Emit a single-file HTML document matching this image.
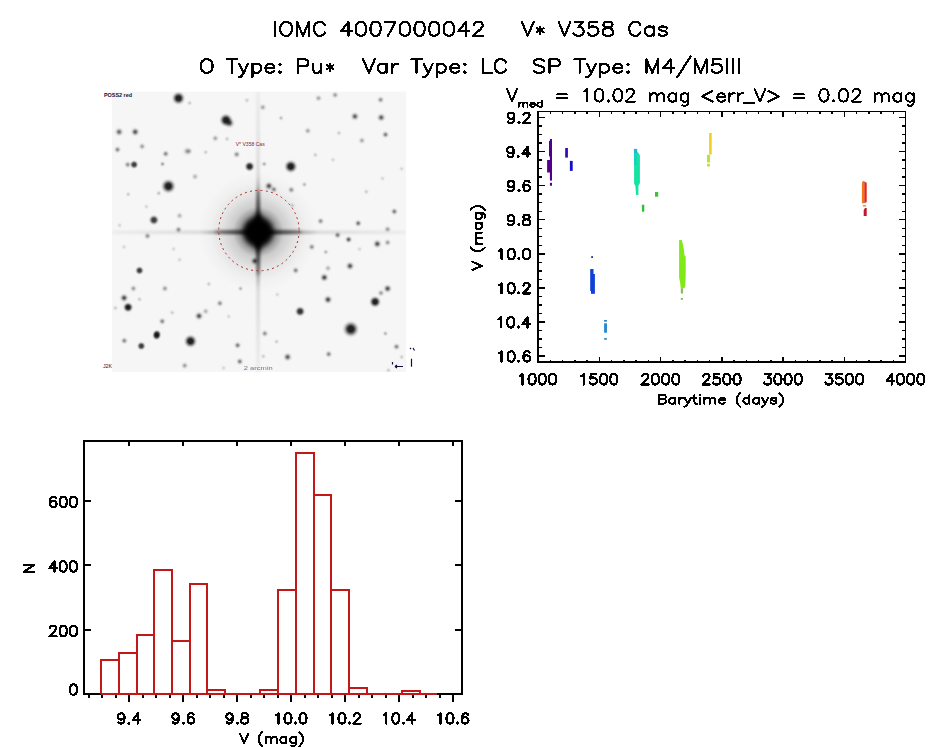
<!DOCTYPE html><html><head><meta charset="utf-8"><style>html,body{margin:0;padding:0;background:#fff;overflow:hidden}svg{display:block}text{font-family:"Liberation Sans",sans-serif}</style></head><body>
<svg width="944" height="747" viewBox="0 0 944 747">
<rect width="944" height="747" fill="#fff"/>
<defs>
<clipPath id="imgclip"><rect x="112" y="91.4" width="294" height="280.6"/></clipPath>
<radialGradient id="halo" cx="0.5" cy="0.5" r="0.5"><stop offset="0.2" stop-color="#000" stop-opacity="0.6"/><stop offset="0.3" stop-color="#000" stop-opacity="0.38"/><stop offset="0.42" stop-color="#000" stop-opacity="0.17"/><stop offset="0.6" stop-color="#000" stop-opacity="0.08"/><stop offset="0.8" stop-color="#000" stop-opacity="0.025"/><stop offset="1" stop-color="#000" stop-opacity="0"/></radialGradient>
<radialGradient id="st" cx="0.5" cy="0.5" r="0.5"><stop offset="0" stop-opacity="1"/><stop offset="0.2" stop-opacity="0.835"/><stop offset="0.4" stop-opacity="0.487"/><stop offset="0.6" stop-opacity="0.198"/><stop offset="0.8" stop-opacity="0.056"/><stop offset="1" stop-opacity="0"/></radialGradient>
<radialGradient id="stb" cx="0.5" cy="0.5" r="0.5"><stop offset="0" stop-opacity="1"/><stop offset="0.3" stop-opacity="0.97"/><stop offset="0.5" stop-opacity="0.6"/><stop offset="0.7" stop-opacity="0.22"/><stop offset="0.85" stop-opacity="0.06"/><stop offset="1" stop-opacity="0"/></radialGradient>
<linearGradient id="spv" x1="0" y1="0" x2="0" y2="1"><stop offset="0" stop-color="#000" stop-opacity="0.035"/><stop offset="0.3" stop-color="#000" stop-opacity="0.11"/><stop offset="0.5" stop-color="#000" stop-opacity="0.7"/><stop offset="0.7" stop-color="#000" stop-opacity="0.11"/><stop offset="1" stop-color="#000" stop-opacity="0.035"/></linearGradient>
<linearGradient id="sph" x1="0" y1="0" x2="1" y2="0"><stop offset="0" stop-color="#000" stop-opacity="0.035"/><stop offset="0.3" stop-color="#000" stop-opacity="0.11"/><stop offset="0.5" stop-color="#000" stop-opacity="0.7"/><stop offset="0.7" stop-color="#000" stop-opacity="0.11"/><stop offset="1" stop-color="#000" stop-opacity="0.035"/></linearGradient>
<filter id="blur3" x="-50%" y="-50%" width="200%" height="200%"><feGaussianBlur stdDeviation="2.5"/></filter>
<filter id="blurSpike" x="-10%" y="-10%" width="120%" height="120%"><feGaussianBlur stdDeviation="0.8"/></filter>
<filter id="blurSpike2" x="-50%" y="-50%" width="200%" height="200%"><feGaussianBlur stdDeviation="1.5"/></filter>
</defs>
<g clip-path="url(#imgclip)">
<rect x="112" y="91.4" width="294" height="280.6" fill="#f6f6f6"/>
<circle cx="258.2" cy="231.8" r="60" fill="url(#halo)"/>
<g filter="url(#blurSpike)">
<rect x="256.3" y="91" width="3.6" height="282" fill="url(#spv)"/>
<rect x="112" y="230.5" width="294" height="3.6" fill="url(#sph)"/>
</g>
<g filter="url(#blur3)"><path d="M258.2,212 L274,231.8 L258.2,251.5 L242.5,231.8Z" fill="#000"/><circle cx="258.2" cy="231.8" r="14.5" fill="#000"/></g>
<g filter="url(#blurSpike2)"><path d="M254.5,231.8 L256.8,190 L259.6,190 L262,231.8 L259.6,275 L256.8,275Z" fill="#000" opacity="0.3"/><path d="M258.2,228.2 L215,230.5 L215,233.3 L258.2,235.5 L301,233.5 L301,230.5Z" fill="#000" opacity="0.3"/></g>
<circle cx="178.5" cy="98.2" r="7.4" fill="url(#stb)" fill-opacity="0.88"/>
<circle cx="119.1" cy="131.9" r="5.2" fill="url(#st)" fill-opacity="0.59"/>
<circle cx="135.2" cy="131.9" r="5.2" fill="url(#st)" fill-opacity="0.68"/>
<circle cx="117.5" cy="149.6" r="4.4" fill="url(#st)" fill-opacity="0.45"/>
<circle cx="142.1" cy="146.4" r="4.4" fill="url(#st)" fill-opacity="0.36"/>
<circle cx="165.7" cy="153.8" r="4.4" fill="url(#st)" fill-opacity="0.45"/>
<circle cx="187.1" cy="151.2" r="5.2" fill="url(#st)" fill-opacity="0.32"/>
<circle cx="134.1" cy="164.6" r="4.9" fill="url(#stb)" fill-opacity="0.75"/>
<circle cx="127.7" cy="164.6" r="4.4" fill="url(#st)" fill-opacity="0.41"/>
<circle cx="162.5" cy="164" r="3.5" fill="url(#st)" fill-opacity="0.36"/>
<circle cx="226" cy="120.1" r="7.4" fill="url(#stb)" fill-opacity="0.88"/>
<circle cx="229.5" cy="123" r="6.1" fill="url(#st)" fill-opacity="0.72"/>
<circle cx="246.9" cy="100.3" r="3.5" fill="url(#st)" fill-opacity="0.18"/>
<circle cx="189.6" cy="103" r="3.5" fill="url(#st)" fill-opacity="0.18"/>
<circle cx="215.3" cy="138.3" r="4.4" fill="url(#st)" fill-opacity="0.32"/>
<circle cx="227.1" cy="138.9" r="3.5" fill="url(#st)" fill-opacity="0.18"/>
<circle cx="189.1" cy="151.2" r="4.4" fill="url(#st)" fill-opacity="0.27"/>
<circle cx="205.7" cy="152.2" r="3.5" fill="url(#st)" fill-opacity="0.18"/>
<circle cx="236.7" cy="154.4" r="4.4" fill="url(#st)" fill-opacity="0.41"/>
<circle cx="249.6" cy="166.5" r="5.8" fill="url(#stb)" fill-opacity="0.84"/>
<circle cx="262.8" cy="107.3" r="4.4" fill="url(#st)" fill-opacity="0.32"/>
<circle cx="318.5" cy="98.2" r="4.4" fill="url(#st)" fill-opacity="0.32"/>
<circle cx="281" cy="118" r="3.5" fill="url(#st)" fill-opacity="0.23"/>
<circle cx="307.8" cy="130.8" r="4.4" fill="url(#st)" fill-opacity="0.32"/>
<circle cx="315.3" cy="154.9" r="3.5" fill="url(#st)" fill-opacity="0.18"/>
<circle cx="290.8" cy="166.5" r="7.4" fill="url(#stb)" fill-opacity="0.88"/>
<circle cx="263.9" cy="164" r="3.5" fill="url(#st)" fill-opacity="0.18"/>
<circle cx="335.1" cy="95" r="4.4" fill="url(#st)" fill-opacity="0.36"/>
<circle cx="380.6" cy="99.8" r="4.4" fill="url(#st)" fill-opacity="0.41"/>
<circle cx="354.9" cy="116.4" r="5.2" fill="url(#st)" fill-opacity="0.63"/>
<circle cx="381.2" cy="117.5" r="5.2" fill="url(#st)" fill-opacity="0.63"/>
<circle cx="385.5" cy="134.6" r="4.4" fill="url(#st)" fill-opacity="0.50"/>
<circle cx="361.9" cy="140.5" r="4.4" fill="url(#st)" fill-opacity="0.32"/>
<circle cx="338.9" cy="133" r="3.5" fill="url(#st)" fill-opacity="0.18"/>
<circle cx="333" cy="159.8" r="3.5" fill="url(#st)" fill-opacity="0.14"/>
<circle cx="168.4" cy="186.2" r="8.2" fill="url(#stb)" fill-opacity="0.88"/>
<circle cx="158.7" cy="193.2" r="3.5" fill="url(#st)" fill-opacity="0.23"/>
<circle cx="128.2" cy="194.3" r="3.5" fill="url(#st)" fill-opacity="0.18"/>
<circle cx="153.9" cy="220" r="5.8" fill="url(#stb)" fill-opacity="0.75"/>
<circle cx="179.6" cy="215.7" r="4.4" fill="url(#st)" fill-opacity="0.27"/>
<circle cx="178.5" cy="229.6" r="4.4" fill="url(#st)" fill-opacity="0.41"/>
<circle cx="147.5" cy="236" r="4.4" fill="url(#st)" fill-opacity="0.41"/>
<circle cx="146.4" cy="206.6" r="3.5" fill="url(#st)" fill-opacity="0.14"/>
<circle cx="119.6" cy="225.3" r="3.5" fill="url(#st)" fill-opacity="0.14"/>
<circle cx="195" cy="176.6" r="4.4" fill="url(#st)" fill-opacity="0.27"/>
<circle cx="268.9" cy="186" r="5.2" fill="url(#st)" fill-opacity="0.68"/>
<circle cx="273.9" cy="189.4" r="4.4" fill="url(#st)" fill-opacity="0.45"/>
<circle cx="291.3" cy="189.8" r="4.4" fill="url(#st)" fill-opacity="0.41"/>
<circle cx="304.4" cy="184.7" r="3.5" fill="url(#st)" fill-opacity="0.14"/>
<circle cx="264.6" cy="164" r="3.5" fill="url(#st)" fill-opacity="0.14"/>
<circle cx="254.8" cy="261" r="5.2" fill="url(#st)" fill-opacity="0.72"/>
<circle cx="295.7" cy="270.4" r="4.4" fill="url(#st)" fill-opacity="0.45"/>
<circle cx="292.3" cy="205.4" r="3.5" fill="url(#st)" fill-opacity="0.18"/>
<circle cx="394.3" cy="211.5" r="4.4" fill="url(#st)" fill-opacity="0.50"/>
<circle cx="320.6" cy="221.1" r="4.4" fill="url(#st)" fill-opacity="0.41"/>
<circle cx="358.2" cy="223.3" r="4.4" fill="url(#st)" fill-opacity="0.54"/>
<circle cx="387.6" cy="229.2" r="4.4" fill="url(#st)" fill-opacity="0.36"/>
<circle cx="337.6" cy="235.1" r="4.4" fill="url(#st)" fill-opacity="0.50"/>
<circle cx="348.6" cy="239.5" r="4.4" fill="url(#st)" fill-opacity="0.63"/>
<circle cx="377.3" cy="243.9" r="5.2" fill="url(#st)" fill-opacity="0.68"/>
<circle cx="387.6" cy="242.5" r="4.4" fill="url(#st)" fill-opacity="0.36"/>
<circle cx="311.8" cy="246.9" r="4.4" fill="url(#st)" fill-opacity="0.41"/>
<circle cx="325.8" cy="252" r="3.5" fill="url(#st)" fill-opacity="0.27"/>
<circle cx="359.6" cy="249.1" r="3.5" fill="url(#st)" fill-opacity="0.14"/>
<circle cx="350" cy="266" r="5.2" fill="url(#st)" fill-opacity="0.68"/>
<circle cx="328" cy="268.2" r="4.4" fill="url(#st)" fill-opacity="0.27"/>
<circle cx="366.3" cy="191.7" r="3.5" fill="url(#st)" fill-opacity="0.18"/>
<circle cx="382.5" cy="178.4" r="3.5" fill="url(#st)" fill-opacity="0.14"/>
<circle cx="401.6" cy="168.8" r="3.5" fill="url(#st)" fill-opacity="0.14"/>
<circle cx="304.4" cy="184.3" r="3.5" fill="url(#st)" fill-opacity="0.14"/>
<circle cx="139.5" cy="270.5" r="4.9" fill="url(#stb)" fill-opacity="0.75"/>
<circle cx="133.4" cy="288.5" r="4.4" fill="url(#st)" fill-opacity="0.36"/>
<circle cx="164.9" cy="288.5" r="4.4" fill="url(#st)" fill-opacity="0.36"/>
<circle cx="124.1" cy="297.9" r="5.2" fill="url(#st)" fill-opacity="0.72"/>
<circle cx="128.1" cy="307.3" r="5.8" fill="url(#stb)" fill-opacity="0.88"/>
<circle cx="115.4" cy="308" r="3.5" fill="url(#st)" fill-opacity="0.18"/>
<circle cx="139.5" cy="299.3" r="3.5" fill="url(#st)" fill-opacity="0.18"/>
<circle cx="199" cy="316" r="5.2" fill="url(#st)" fill-opacity="0.68"/>
<circle cx="205.7" cy="311.3" r="4.4" fill="url(#st)" fill-opacity="0.27"/>
<circle cx="162.2" cy="321.3" r="4.4" fill="url(#st)" fill-opacity="0.45"/>
<circle cx="172.2" cy="312.6" r="3.5" fill="url(#st)" fill-opacity="0.18"/>
<circle cx="156.9" cy="334" r="4.9" fill="url(#stb)" fill-opacity="0.75"/>
<circle cx="173.6" cy="249" r="3.5" fill="url(#st)" fill-opacity="0.14"/>
<circle cx="179.6" cy="259.8" r="3.5" fill="url(#st)" fill-opacity="0.14"/>
<circle cx="124" cy="247" r="3.5" fill="url(#st)" fill-opacity="0.14"/>
<circle cx="300.1" cy="311.4" r="5.8" fill="url(#stb)" fill-opacity="0.79"/>
<circle cx="219.9" cy="303.3" r="4.4" fill="url(#st)" fill-opacity="0.41"/>
<circle cx="240.5" cy="288.6" r="3.5" fill="url(#st)" fill-opacity="0.27"/>
<circle cx="208.8" cy="284" r="3.5" fill="url(#st)" fill-opacity="0.18"/>
<circle cx="277.3" cy="294.5" r="3.5" fill="url(#st)" fill-opacity="0.14"/>
<circle cx="264.8" cy="333.5" r="4.4" fill="url(#st)" fill-opacity="0.41"/>
<circle cx="276.6" cy="341.6" r="3.5" fill="url(#st)" fill-opacity="0.18"/>
<circle cx="237.6" cy="345.3" r="4.4" fill="url(#st)" fill-opacity="0.50"/>
<circle cx="287.6" cy="357" r="5.2" fill="url(#st)" fill-opacity="0.63"/>
<circle cx="239.8" cy="361.5" r="4.4" fill="url(#st)" fill-opacity="0.50"/>
<circle cx="263.3" cy="356.3" r="3.5" fill="url(#st)" fill-opacity="0.18"/>
<circle cx="223.6" cy="368" r="3.5" fill="url(#st)" fill-opacity="0.14"/>
<circle cx="228.7" cy="316.5" r="3.5" fill="url(#st)" fill-opacity="0.14"/>
<circle cx="350.8" cy="329.1" r="9.1" fill="url(#stb)" fill-opacity="0.88"/>
<circle cx="375.1" cy="301.8" r="6.6" fill="url(#stb)" fill-opacity="0.88"/>
<circle cx="387.6" cy="288.6" r="5.2" fill="url(#st)" fill-opacity="0.68"/>
<circle cx="381" cy="293" r="4.4" fill="url(#st)" fill-opacity="0.36"/>
<circle cx="324.3" cy="277.5" r="5.2" fill="url(#st)" fill-opacity="0.72"/>
<circle cx="328" cy="299.6" r="5.2" fill="url(#st)" fill-opacity="0.72"/>
<circle cx="396.5" cy="346.7" r="4.4" fill="url(#st)" fill-opacity="0.45"/>
<circle cx="328.7" cy="354.1" r="4.4" fill="url(#st)" fill-opacity="0.45"/>
<circle cx="385.4" cy="333.5" r="3.5" fill="url(#st)" fill-opacity="0.27"/>
<circle cx="401.6" cy="357" r="3.5" fill="url(#st)" fill-opacity="0.18"/>
<circle cx="388.4" cy="370.3" r="3.5" fill="url(#st)" fill-opacity="0.18"/>
<circle cx="156.6" cy="335.9" r="4.9" fill="url(#stb)" fill-opacity="0.75"/>
<circle cx="190.5" cy="341.2" r="7.4" fill="url(#stb)" fill-opacity="0.88"/>
<circle cx="141.3" cy="346" r="4.9" fill="url(#stb)" fill-opacity="0.75"/>
<circle cx="124.3" cy="340.7" r="4.4" fill="url(#st)" fill-opacity="0.45"/>
<circle cx="184.7" cy="365.6" r="4.4" fill="url(#st)" fill-opacity="0.36"/>
</g>
<circle cx="258.9" cy="230.6" r="40.2" fill="none" stroke="#b82828" stroke-width="1" stroke-dasharray="2 3.3"/>
<g font-size="5" fill="#101040">
<text x="104" y="96.5" textLength="28" lengthAdjust="spacingAndGlyphs" font-weight="bold">POSS2 red</text>
<text x="103" y="368" textLength="9" lengthAdjust="spacingAndGlyphs">J2K</text>
<text x="243.8" y="370" textLength="29" lengthAdjust="spacingAndGlyphs" font-size="4.5" opacity="0.6">2 arcmin</text>
</g>
<text x="235.7" y="146" font-size="5" fill="#902020" textLength="29" lengthAdjust="spacingAndGlyphs">V* V358 Cas</text>
<path d="M395,366.5H403M395,366.5l2,-1.5M395,366.5l2,1.5M392.5,362v2.5M411.5,358.8v8M410,348l1,1M413,348l1.5,2.5" stroke="#101040" stroke-width="1.2" fill="none"/>
<path d="M275.10,21.90L275.10,35.80M284.63,21.90L283.17,22.56L281.70,23.88L280.97,25.21L280.23,27.19L280.23,30.50L280.97,32.49L281.70,33.81L283.17,35.14L284.63,35.80L287.57,35.80L289.04,35.14L290.50,33.81L291.24,32.49L291.97,30.50L291.97,27.19L291.24,25.21L290.50,23.88L289.04,22.56L287.57,21.90L284.63,21.90M297.10,21.90L297.10,35.80M297.10,21.90L302.97,35.80M308.84,21.90L302.97,35.80M308.84,21.90L308.84,35.80M324.97,25.21L324.24,23.88L322.77,22.56L321.31,21.90L318.37,21.90L316.91,22.56L315.44,23.88L314.71,25.21L313.97,27.19L313.97,30.50L314.71,32.49L315.44,33.81L316.91,35.14L318.37,35.80L321.31,35.80L322.77,35.14L324.24,33.81L324.97,32.49M348.45,21.90L341.11,31.17L352.11,31.17M348.45,21.90L348.45,35.80M360.18,21.90L357.98,22.56L356.51,24.55L355.78,27.86L355.78,29.84L356.51,33.15L357.98,35.14L360.18,35.80L361.65,35.80L363.85,35.14L365.31,33.15L366.05,29.84L366.05,27.86L365.31,24.55L363.85,22.56L361.65,21.90L360.18,21.90M374.85,21.90L372.65,22.56L371.18,24.55L370.45,27.86L370.45,29.84L371.18,33.15L372.65,35.14L374.85,35.80L376.32,35.80L378.52,35.14L379.98,33.15L380.72,29.84L380.72,27.86L379.98,24.55L378.52,22.56L376.32,21.90L374.85,21.90M395.39,21.90L388.05,35.80M385.12,21.90L395.39,21.90M404.19,21.90L401.99,22.56L400.52,24.55L399.79,27.86L399.79,29.84L400.52,33.15L401.99,35.14L404.19,35.80L405.65,35.80L407.85,35.14L409.32,33.15L410.05,29.84L410.05,27.86L409.32,24.55L407.85,22.56L405.65,21.90L404.19,21.90M418.86,21.90L416.66,22.56L415.19,24.55L414.46,27.86L414.46,29.84L415.19,33.15L416.66,35.14L418.86,35.80L420.32,35.80L422.52,35.14L423.99,33.15L424.72,29.84L424.72,27.86L423.99,24.55L422.52,22.56L420.32,21.90L418.86,21.90M433.53,21.90L431.33,22.56L429.86,24.55L429.12,27.86L429.12,29.84L429.86,33.15L431.33,35.14L433.53,35.80L434.99,35.80L437.19,35.14L438.66,33.15L439.39,29.84L439.39,27.86L438.66,24.55L437.19,22.56L434.99,21.90L433.53,21.90M448.19,21.90L445.99,22.56L444.53,24.55L443.79,27.86L443.79,29.84L444.53,33.15L445.99,35.14L448.19,35.80L449.66,35.80L451.86,35.14L453.33,33.15L454.06,29.84L454.06,27.86L453.33,24.55L451.86,22.56L449.66,21.90L448.19,21.90M465.80,21.90L458.46,31.17L469.46,31.17M465.80,21.90L465.80,35.80M473.87,25.21L473.87,24.55L474.60,23.22L475.33,22.56L476.80,21.90L479.73,21.90L481.20,22.56L481.93,23.22L482.67,24.55L482.67,25.87L481.93,27.19L480.47,29.18L473.13,35.80L483.40,35.80" fill="none" stroke="#000" stroke-width="2.2" stroke-linecap="round" stroke-linejoin="round" shape-rendering="crispEdges"/>
<path d="M521.80,21.90L527.69,35.80M533.58,21.90L527.69,35.80M540.21,26.53L540.21,33.81M536.90,28.19L543.53,32.16M543.53,28.19L536.90,32.16M558.63,21.90L564.52,35.80M570.41,21.90L564.52,35.80M574.83,21.90L582.93,21.90L578.51,27.19L580.72,27.19L582.20,27.86L582.93,28.52L583.67,30.50L583.67,31.83L582.93,33.81L581.46,35.14L579.25,35.80L577.04,35.80L574.83,35.14L574.09,34.48L573.36,33.15M596.93,21.90L589.56,21.90L588.83,27.86L589.56,27.19L591.77,26.53L593.98,26.53L596.19,27.19L597.66,28.52L598.40,30.50L598.40,31.83L597.66,33.81L596.19,35.14L593.98,35.80L591.77,35.80L589.56,35.14L588.83,34.48L588.09,33.15M606.50,21.90L604.29,22.56L603.56,23.88L603.56,25.21L604.29,26.53L605.77,27.19L608.71,27.86L610.92,28.52L612.40,29.84L613.13,31.17L613.13,33.15L612.40,34.48L611.66,35.14L609.45,35.80L606.50,35.80L604.29,35.14L603.56,34.48L602.82,33.15L602.82,31.17L603.56,29.84L605.03,28.52L607.24,27.86L610.19,27.19L611.66,26.53L612.40,25.21L612.40,23.88L611.66,22.56L609.45,21.90L606.50,21.90M640.38,25.21L639.65,23.88L638.17,22.56L636.70,21.90L633.76,21.90L632.28,22.56L630.81,23.88L630.07,25.21L629.34,27.19L629.34,30.50L630.07,32.49L630.81,33.81L632.28,35.14L633.76,35.80L636.70,35.80L638.17,35.14L639.65,33.81L640.38,32.49M653.64,26.53L653.64,35.80M653.64,28.52L652.17,27.19L650.70,26.53L648.49,26.53L647.01,27.19L645.54,28.52L644.80,30.50L644.80,31.83L645.54,33.81L647.01,35.14L648.49,35.80L650.70,35.80L652.17,35.14L653.64,33.81M666.90,28.52L666.16,27.19L663.95,26.53L661.74,26.53L659.53,27.19L658.80,28.52L659.53,29.84L661.01,30.50L664.69,31.17L666.16,31.83L666.90,33.15L666.90,33.81L666.16,35.14L663.95,35.80L661.74,35.80L659.53,35.14L658.80,33.81" fill="none" stroke="#000" stroke-width="2.2" stroke-linecap="round" stroke-linejoin="round" shape-rendering="crispEdges"/>
<path d="M205.25,59.19L203.80,59.84L202.35,61.14L201.63,62.43L200.90,64.38L200.90,67.62L201.63,69.56L202.35,70.86L203.80,72.15L205.25,72.80L208.15,72.80L209.61,72.15L211.06,70.86L211.78,69.56L212.51,67.62L212.51,64.38L211.78,62.43L211.06,61.14L209.61,59.84L208.15,59.19L205.25,59.19M232.10,59.19L232.10,72.80M227.02,59.19L237.17,59.19M239.35,63.73L243.70,72.80M248.06,63.73L243.70,72.80L242.25,75.39L240.80,76.69L239.35,77.34L238.62,77.34M252.41,63.73L252.41,77.34M252.41,65.67L253.86,64.38L255.31,63.73L257.49,63.73L258.94,64.38L260.39,65.67L261.11,67.62L261.11,68.91L260.39,70.86L258.94,72.15L257.49,72.80L255.31,72.80L253.86,72.15L252.41,70.86M265.47,67.62L274.17,67.62L274.17,66.32L273.45,65.02L272.72,64.38L271.27,63.73L269.10,63.73L267.64,64.38L266.19,65.67L265.47,67.62L265.47,68.91L266.19,70.86L267.64,72.15L269.10,72.80L271.27,72.80L272.72,72.15L274.17,70.86M279.98,63.73L279.25,64.38L279.98,65.02L280.70,64.38L279.98,63.73M279.98,71.50L279.25,72.15L279.98,72.80L280.70,72.15L279.98,71.50M298.11,59.19L298.11,72.80M298.11,59.19L304.64,59.19L306.82,59.84L307.55,60.49L308.27,61.78L308.27,63.73L307.55,65.02L306.82,65.67L304.64,66.32L298.11,66.32M313.35,63.73L313.35,70.21L314.07,72.15L315.53,72.80L317.70,72.80L319.15,72.15L321.33,70.21M321.33,63.73L321.33,72.80M330.04,63.73L330.04,70.86M326.77,65.35L333.30,69.24M333.30,65.35L326.77,69.24" fill="none" stroke="#000" stroke-width="2.2" stroke-linecap="round" stroke-linejoin="round" shape-rendering="crispEdges"/>
<path d="M363.10,59.19L368.95,72.80M374.81,59.19L368.95,72.80M386.52,63.73L386.52,72.80M386.52,65.67L385.05,64.38L383.59,63.73L381.39,63.73L379.93,64.38L378.47,65.67L377.74,67.62L377.74,68.91L378.47,70.86L379.93,72.15L381.39,72.80L383.59,72.80L385.05,72.15L386.52,70.86M392.37,63.73L392.37,72.80M392.37,67.62L393.10,65.67L394.57,64.38L396.03,63.73L398.23,63.73M416.52,59.19L416.52,72.80M411.40,59.19L421.64,59.19M423.84,63.73L428.23,72.80M432.62,63.73L428.23,72.80L426.77,75.39L425.30,76.69L423.84,77.34L423.11,77.34M437.01,63.73L437.01,77.34M437.01,65.67L438.47,64.38L439.94,63.73L442.13,63.73L443.60,64.38L445.06,65.67L445.79,67.62L445.79,68.91L445.06,70.86L443.60,72.15L442.13,72.80L439.94,72.80L438.47,72.15L437.01,70.86M450.18,67.62L458.97,67.62L458.97,66.32L458.23,65.02L457.50,64.38L456.04,63.73L453.84,63.73L452.38,64.38L450.92,65.67L450.18,67.62L450.18,68.91L450.92,70.86L452.38,72.15L453.84,72.80L456.04,72.80L457.50,72.15L458.97,70.86M464.82,63.73L464.09,64.38L464.82,65.02L465.55,64.38L464.82,63.73M464.82,71.50L464.09,72.15L464.82,72.80L465.55,72.15L464.82,71.50M483.11,59.19L483.11,72.80M483.11,72.80L491.90,72.80M505.80,62.43L505.07,61.14L503.60,59.84L502.14,59.19L499.21,59.19L497.75,59.84L496.29,61.14L495.55,62.43L494.82,64.38L494.82,67.62L495.55,69.56L496.29,70.86L497.75,72.15L499.21,72.80L502.14,72.80L503.60,72.15L505.07,70.86L505.80,69.56" fill="none" stroke="#000" stroke-width="2.2" stroke-linecap="round" stroke-linejoin="round" shape-rendering="crispEdges"/>
<path d="M544.38,61.14L542.91,59.84L540.71,59.19L537.77,59.19L535.57,59.84L534.10,61.14L534.10,62.43L534.83,63.73L535.57,64.38L537.04,65.02L541.44,66.32L542.91,66.97L543.64,67.62L544.38,68.91L544.38,70.86L542.91,72.15L540.71,72.80L537.77,72.80L535.57,72.15L534.10,70.86M549.52,59.19L549.52,72.80M549.52,59.19L556.12,59.19L558.32,59.84L559.06,60.49L559.79,61.78L559.79,63.73L559.06,65.02L558.32,65.67L556.12,66.32L549.52,66.32M579.61,59.19L579.61,72.80M574.47,59.19L584.75,59.19M586.95,63.73L591.36,72.80M595.76,63.73L591.36,72.80L589.89,75.39L588.42,76.69L586.95,77.34L586.22,77.34M600.16,63.73L600.16,77.34M600.16,65.67L601.63,64.38L603.10,63.73L605.30,63.73L606.77,64.38L608.24,65.67L608.97,67.62L608.97,68.91L608.24,70.86L606.77,72.15L605.30,72.80L603.10,72.80L601.63,72.15L600.16,70.86M613.38,67.62L622.19,67.62L622.19,66.32L621.45,65.02L620.72,64.38L619.25,63.73L617.05,63.73L615.58,64.38L614.11,65.67L613.38,67.62L613.38,68.91L614.11,70.86L615.58,72.15L617.05,72.80L619.25,72.80L620.72,72.15L622.19,70.86M628.06,63.73L627.32,64.38L628.06,65.02L628.79,64.38L628.06,63.73M628.06,71.50L627.32,72.15L628.06,72.80L628.79,72.15L628.06,71.50M646.41,59.19L646.41,72.80M646.41,59.19L652.28,72.80M658.15,59.19L652.28,72.80M658.15,59.19L658.15,72.80M670.63,59.19L663.29,68.26L674.30,68.26M670.63,59.19L670.63,72.80M690.45,56.60L677.24,77.34M694.86,59.19L694.86,72.80M694.86,59.19L700.73,72.80M706.60,59.19L700.73,72.80M706.60,59.19L706.60,72.80M720.55,59.19L713.21,59.19L712.47,65.02L713.21,64.38L715.41,63.73L717.61,63.73L719.81,64.38L721.28,65.67L722.02,67.62L722.02,68.91L721.28,70.86L719.81,72.15L717.61,72.80L715.41,72.80L713.21,72.15L712.47,71.50L711.74,70.21M727.16,59.19L727.16,72.80M733.03,59.19L733.03,72.80M738.90,59.19L738.90,72.80" fill="none" stroke="#000" stroke-width="2.2" stroke-linecap="round" stroke-linejoin="round" shape-rendering="crispEdges"/>
<g stroke="#000" stroke-width="1.4" fill="none" shape-rendering="crispEdges">
<rect x="538.0" y="111.5" width="367.5" height="250.5"/>
<path d="M538.0,117.4h7M905.5,117.4h-7M538.0,125.9h3.5M905.5,125.9h-3.5M538.0,134.4h3.5M905.5,134.4h-3.5M538.0,143.0h3.5M905.5,143.0h-3.5M538.0,151.5h7M905.5,151.5h-7M538.0,160.0h3.5M905.5,160.0h-3.5M538.0,168.6h3.5M905.5,168.6h-3.5M538.0,177.1h3.5M905.5,177.1h-3.5M538.0,185.6h7M905.5,185.6h-7M538.0,194.1h3.5M905.5,194.1h-3.5M538.0,202.7h3.5M905.5,202.7h-3.5M538.0,211.2h3.5M905.5,211.2h-3.5M538.0,219.7h7M905.5,219.7h-7M538.0,228.2h3.5M905.5,228.2h-3.5M538.0,236.7h3.5M905.5,236.7h-3.5M538.0,245.3h3.5M905.5,245.3h-3.5M538.0,253.8h7M905.5,253.8h-7M538.0,262.3h3.5M905.5,262.3h-3.5M538.0,270.9h3.5M905.5,270.9h-3.5M538.0,279.4h3.5M905.5,279.4h-3.5M538.0,287.9h7M905.5,287.9h-7M538.0,296.4h3.5M905.5,296.4h-3.5M538.0,304.9h3.5M905.5,304.9h-3.5M538.0,313.5h3.5M905.5,313.5h-3.5M538.0,322.0h7M905.5,322.0h-7M538.0,330.5h3.5M905.5,330.5h-3.5M538.0,339.1h3.5M905.5,339.1h-3.5M538.0,347.6h3.5M905.5,347.6h-3.5M538.0,356.1h7M905.5,356.1h-7M538.0,362.0v-5M538.0,111.5v5M550.2,362.0v-2.5M550.2,111.5v2.5M562.5,362.0v-2.5M562.5,111.5v2.5M574.8,362.0v-2.5M574.8,111.5v2.5M587.0,362.0v-2.5M587.0,111.5v2.5M599.2,362.0v-5M599.2,111.5v5M611.5,362.0v-2.5M611.5,111.5v2.5M623.8,362.0v-2.5M623.8,111.5v2.5M636.0,362.0v-2.5M636.0,111.5v2.5M648.2,362.0v-2.5M648.2,111.5v2.5M660.5,362.0v-5M660.5,111.5v5M672.8,362.0v-2.5M672.8,111.5v2.5M685.0,362.0v-2.5M685.0,111.5v2.5M697.2,362.0v-2.5M697.2,111.5v2.5M709.5,362.0v-2.5M709.5,111.5v2.5M721.8,362.0v-5M721.8,111.5v5M734.0,362.0v-2.5M734.0,111.5v2.5M746.2,362.0v-2.5M746.2,111.5v2.5M758.5,362.0v-2.5M758.5,111.5v2.5M770.8,362.0v-2.5M770.8,111.5v2.5M783.0,362.0v-5M783.0,111.5v5M795.2,362.0v-2.5M795.2,111.5v2.5M807.5,362.0v-2.5M807.5,111.5v2.5M819.8,362.0v-2.5M819.8,111.5v2.5M832.0,362.0v-2.5M832.0,111.5v2.5M844.2,362.0v-5M844.2,111.5v5M856.5,362.0v-2.5M856.5,111.5v2.5M868.8,362.0v-2.5M868.8,111.5v2.5M881.0,362.0v-2.5M881.0,111.5v2.5M893.2,362.0v-2.5M893.2,111.5v2.5M905.5,362.0v-5M905.5,111.5v5"/>
</g>
<path d="M514.29,116.04L513.78,117.51L512.76,118.49L511.23,118.98L510.72,118.98L509.19,118.49L508.17,117.51L507.66,116.04L507.66,115.55L508.17,114.08L509.19,113.10L510.72,112.61L511.23,112.61L512.76,113.10L513.78,114.08L514.29,116.04L514.29,118.49L513.78,120.94L512.76,122.41L511.23,122.90L510.21,122.90L508.68,122.41L508.17,121.43M518.88,121.92L518.37,122.41L518.88,122.90L519.39,122.41L518.88,121.92M523.47,115.06L523.47,114.57L523.98,113.59L524.49,113.10L525.51,112.61L527.55,112.61L528.57,113.10L529.08,113.59L529.59,114.57L529.59,115.55L529.08,116.53L528.06,118.00L522.96,122.90L530.10,122.90" fill="none" stroke="#000" stroke-width="2.2" stroke-linecap="round" stroke-linejoin="round" shape-rendering="crispEdges"/>
<path d="M513.78,150.14L513.27,151.61L512.25,152.59L510.72,153.08L510.21,153.08L508.68,152.59L507.66,151.61L507.15,150.14L507.15,149.65L507.66,148.18L508.68,147.20L510.21,146.71L510.72,146.71L512.25,147.20L513.27,148.18L513.78,150.14L513.78,152.59L513.27,155.04L512.25,156.51L510.72,157.00L509.70,157.00L508.17,156.51L507.66,155.53M518.37,156.02L517.86,156.51L518.37,157.00L518.88,156.51L518.37,156.02M527.55,146.71L522.45,153.57L530.10,153.57M527.55,146.71L527.55,157.00" fill="none" stroke="#000" stroke-width="2.2" stroke-linecap="round" stroke-linejoin="round" shape-rendering="crispEdges"/>
<path d="M514.29,184.24L513.78,185.71L512.76,186.69L511.23,187.18L510.72,187.18L509.19,186.69L508.17,185.71L507.66,184.24L507.66,183.75L508.17,182.28L509.19,181.30L510.72,180.81L511.23,180.81L512.76,181.30L513.78,182.28L514.29,184.24L514.29,186.69L513.78,189.14L512.76,190.61L511.23,191.10L510.21,191.10L508.68,190.61L508.17,189.63M518.88,190.12L518.37,190.61L518.88,191.10L519.39,190.61L518.88,190.12M529.59,182.28L529.08,181.30L527.55,180.81L526.53,180.81L525.00,181.30L523.98,182.77L523.47,185.22L523.47,187.67L523.98,189.63L525.00,190.61L526.53,191.10L527.04,191.10L528.57,190.61L529.59,189.63L530.10,188.16L530.10,187.67L529.59,186.20L528.57,185.22L527.04,184.73L526.53,184.73L525.00,185.22L523.98,186.20L523.47,187.67" fill="none" stroke="#000" stroke-width="2.2" stroke-linecap="round" stroke-linejoin="round" shape-rendering="crispEdges"/>
<path d="M514.29,218.34L513.78,219.81L512.76,220.79L511.23,221.28L510.72,221.28L509.19,220.79L508.17,219.81L507.66,218.34L507.66,217.85L508.17,216.38L509.19,215.40L510.72,214.91L511.23,214.91L512.76,215.40L513.78,216.38L514.29,218.34L514.29,220.79L513.78,223.24L512.76,224.71L511.23,225.20L510.21,225.20L508.68,224.71L508.17,223.73M518.88,224.22L518.37,224.71L518.88,225.20L519.39,224.71L518.88,224.22M525.51,214.91L523.98,215.40L523.47,216.38L523.47,217.36L523.98,218.34L525.00,218.83L527.04,219.32L528.57,219.81L529.59,220.79L530.10,221.77L530.10,223.24L529.59,224.22L529.08,224.71L527.55,225.20L525.51,225.20L523.98,224.71L523.47,224.22L522.96,223.24L522.96,221.77L523.47,220.79L524.49,219.81L526.02,219.32L528.06,218.83L529.08,218.34L529.59,217.36L529.59,216.38L529.08,215.40L527.55,214.91L525.51,214.91" fill="none" stroke="#000" stroke-width="2.2" stroke-linecap="round" stroke-linejoin="round" shape-rendering="crispEdges"/>
<path d="M498.99,250.97L500.01,250.48L501.54,249.01L501.54,259.30M510.72,249.01L509.19,249.50L508.17,250.97L507.66,253.42L507.66,254.89L508.17,257.34L509.19,258.81L510.72,259.30L511.74,259.30L513.27,258.81L514.29,257.34L514.80,254.89L514.80,253.42L514.29,250.97L513.27,249.50L511.74,249.01L510.72,249.01M518.88,258.32L518.37,258.81L518.88,259.30L519.39,258.81L518.88,258.32M526.02,249.01L524.49,249.50L523.47,250.97L522.96,253.42L522.96,254.89L523.47,257.34L524.49,258.81L526.02,259.30L527.04,259.30L528.57,258.81L529.59,257.34L530.10,254.89L530.10,253.42L529.59,250.97L528.57,249.50L527.04,249.01L526.02,249.01" fill="none" stroke="#000" stroke-width="2.2" stroke-linecap="round" stroke-linejoin="round" shape-rendering="crispEdges"/>
<path d="M498.99,285.07L500.01,284.58L501.54,283.11L501.54,293.40M510.72,283.11L509.19,283.60L508.17,285.07L507.66,287.52L507.66,288.99L508.17,291.44L509.19,292.91L510.72,293.40L511.74,293.40L513.27,292.91L514.29,291.44L514.80,288.99L514.80,287.52L514.29,285.07L513.27,283.60L511.74,283.11L510.72,283.11M518.88,292.42L518.37,292.91L518.88,293.40L519.39,292.91L518.88,292.42M523.47,285.56L523.47,285.07L523.98,284.09L524.49,283.60L525.51,283.11L527.55,283.11L528.57,283.60L529.08,284.09L529.59,285.07L529.59,286.05L529.08,287.03L528.06,288.50L522.96,293.40L530.10,293.40" fill="none" stroke="#000" stroke-width="2.2" stroke-linecap="round" stroke-linejoin="round" shape-rendering="crispEdges"/>
<path d="M498.48,319.17L499.50,318.68L501.03,317.21L501.03,327.50M510.21,317.21L508.68,317.70L507.66,319.17L507.15,321.62L507.15,323.09L507.66,325.54L508.68,327.01L510.21,327.50L511.23,327.50L512.76,327.01L513.78,325.54L514.29,323.09L514.29,321.62L513.78,319.17L512.76,317.70L511.23,317.21L510.21,317.21M518.37,326.52L517.86,327.01L518.37,327.50L518.88,327.01L518.37,326.52M527.55,317.21L522.45,324.07L530.10,324.07M527.55,317.21L527.55,327.50" fill="none" stroke="#000" stroke-width="2.2" stroke-linecap="round" stroke-linejoin="round" shape-rendering="crispEdges"/>
<path d="M498.99,353.27L500.01,352.78L501.54,351.31L501.54,361.60M510.72,351.31L509.19,351.80L508.17,353.27L507.66,355.72L507.66,357.19L508.17,359.64L509.19,361.11L510.72,361.60L511.74,361.60L513.27,361.11L514.29,359.64L514.80,357.19L514.80,355.72L514.29,353.27L513.27,351.80L511.74,351.31L510.72,351.31M518.88,360.62L518.37,361.11L518.88,361.60L519.39,361.11L518.88,360.62M529.59,352.78L529.08,351.80L527.55,351.31L526.53,351.31L525.00,351.80L523.98,353.27L523.47,355.72L523.47,358.17L523.98,360.13L525.00,361.11L526.53,361.60L527.04,361.60L528.57,361.11L529.59,360.13L530.10,358.66L530.10,358.17L529.59,356.70L528.57,355.72L527.04,355.23L526.53,355.23L525.00,355.72L523.98,356.70L523.47,358.17" fill="none" stroke="#000" stroke-width="2.2" stroke-linecap="round" stroke-linejoin="round" shape-rendering="crispEdges"/>
<path d="M519.89,376.00L520.92,375.50L522.45,374.00L522.45,384.50M531.62,374.00L530.10,374.50L529.08,376.00L528.57,378.50L528.57,380.00L529.08,382.50L530.10,384.00L531.62,384.50L532.64,384.50L534.18,384.00L535.20,382.50L535.71,380.00L535.71,378.50L535.20,376.00L534.18,374.50L532.64,374.00L531.62,374.00M541.83,374.00L540.30,374.50L539.28,376.00L538.76,378.50L538.76,380.00L539.28,382.50L540.30,384.00L541.83,384.50L542.85,384.50L544.38,384.00L545.39,382.50L545.91,380.00L545.91,378.50L545.39,376.00L544.38,374.50L542.85,374.00L541.83,374.00M552.03,374.00L550.50,374.50L549.48,376.00L548.97,378.50L548.97,380.00L549.48,382.50L550.50,384.00L552.03,384.50L553.05,384.50L554.58,384.00L555.60,382.50L556.11,380.00L556.11,378.50L555.60,376.00L554.58,374.50L553.05,374.00L552.03,374.00" fill="none" stroke="#000" stroke-width="2.2" stroke-linecap="round" stroke-linejoin="round" shape-rendering="crispEdges"/>
<path d="M581.14,376.00L582.17,375.50L583.70,374.00L583.70,384.50M595.94,374.00L590.84,374.00L590.33,378.50L590.84,378.00L592.37,377.50L593.89,377.50L595.43,378.00L596.45,379.00L596.96,380.50L596.96,381.50L596.45,383.00L595.43,384.00L593.89,384.50L592.37,384.50L590.84,384.00L590.33,383.50L589.82,382.50M603.08,374.00L601.55,374.50L600.53,376.00L600.01,378.50L600.01,380.00L600.53,382.50L601.55,384.00L603.08,384.50L604.10,384.50L605.62,384.00L606.64,382.50L607.16,380.00L607.16,378.50L606.64,376.00L605.62,374.50L604.10,374.00L603.08,374.00M613.28,374.00L611.75,374.50L610.73,376.00L610.22,378.50L610.22,380.00L610.73,382.50L611.75,384.00L613.28,384.50L614.30,384.50L615.83,384.00L616.85,382.50L617.36,380.00L617.36,378.50L616.85,376.00L615.83,374.50L614.30,374.00L613.28,374.00" fill="none" stroke="#000" stroke-width="2.2" stroke-linecap="round" stroke-linejoin="round" shape-rendering="crispEdges"/>
<path d="M642.14,376.50L642.14,376.00L642.65,375.00L643.16,374.50L644.18,374.00L646.22,374.00L647.24,374.50L647.75,375.00L648.26,376.00L648.26,377.00L647.75,378.00L646.73,379.50L641.63,384.50L648.77,384.50M654.89,374.00L653.36,374.50L652.34,376.00L651.83,378.50L651.83,380.00L652.34,382.50L653.36,384.00L654.89,384.50L655.91,384.50L657.44,384.00L658.46,382.50L658.97,380.00L658.97,378.50L658.46,376.00L657.44,374.50L655.91,374.00L654.89,374.00M665.09,374.00L663.56,374.50L662.54,376.00L662.03,378.50L662.03,380.00L662.54,382.50L663.56,384.00L665.09,384.50L666.11,384.50L667.64,384.00L668.66,382.50L669.17,380.00L669.17,378.50L668.66,376.00L667.64,374.50L666.11,374.00L665.09,374.00M675.29,374.00L673.76,374.50L672.74,376.00L672.23,378.50L672.23,380.00L672.74,382.50L673.76,384.00L675.29,384.50L676.31,384.50L677.84,384.00L678.86,382.50L679.37,380.00L679.37,378.50L678.86,376.00L677.84,374.50L676.31,374.00L675.29,374.00" fill="none" stroke="#000" stroke-width="2.2" stroke-linecap="round" stroke-linejoin="round" shape-rendering="crispEdges"/>
<path d="M703.39,376.50L703.39,376.00L703.90,375.00L704.41,374.50L705.43,374.00L707.47,374.00L708.49,374.50L709.00,375.00L709.51,376.00L709.51,377.00L709.00,378.00L707.98,379.50L702.88,384.50L710.02,384.50M719.20,374.00L714.10,374.00L713.59,378.50L714.10,378.00L715.63,377.50L717.16,377.50L718.69,378.00L719.71,379.00L720.22,380.50L720.22,381.50L719.71,383.00L718.69,384.00L717.16,384.50L715.63,384.50L714.10,384.00L713.59,383.50L713.08,382.50M726.34,374.00L724.81,374.50L723.79,376.00L723.28,378.50L723.28,380.00L723.79,382.50L724.81,384.00L726.34,384.50L727.36,384.50L728.89,384.00L729.91,382.50L730.42,380.00L730.42,378.50L729.91,376.00L728.89,374.50L727.36,374.00L726.34,374.00M736.54,374.00L735.01,374.50L733.99,376.00L733.48,378.50L733.48,380.00L733.99,382.50L735.01,384.00L736.54,384.50L737.56,384.50L739.09,384.00L740.11,382.50L740.62,380.00L740.62,378.50L740.11,376.00L739.09,374.50L737.56,374.00L736.54,374.00" fill="none" stroke="#000" stroke-width="2.2" stroke-linecap="round" stroke-linejoin="round" shape-rendering="crispEdges"/>
<path d="M765.15,374.00L770.76,374.00L767.70,378.00L769.23,378.00L770.25,378.50L770.76,379.00L771.27,380.50L771.27,381.50L770.76,383.00L769.74,384.00L768.21,384.50L766.68,384.50L765.15,384.00L764.64,383.50L764.13,382.50M777.39,374.00L775.86,374.50L774.84,376.00L774.33,378.50L774.33,380.00L774.84,382.50L775.86,384.00L777.39,384.50L778.41,384.50L779.94,384.00L780.96,382.50L781.47,380.00L781.47,378.50L780.96,376.00L779.94,374.50L778.41,374.00L777.39,374.00M787.59,374.00L786.06,374.50L785.04,376.00L784.53,378.50L784.53,380.00L785.04,382.50L786.06,384.00L787.59,384.50L788.61,384.50L790.14,384.00L791.16,382.50L791.67,380.00L791.67,378.50L791.16,376.00L790.14,374.50L788.61,374.00L787.59,374.00M797.79,374.00L796.26,374.50L795.24,376.00L794.73,378.50L794.73,380.00L795.24,382.50L796.26,384.00L797.79,384.50L798.81,384.50L800.34,384.00L801.36,382.50L801.87,380.00L801.87,378.50L801.36,376.00L800.34,374.50L798.81,374.00L797.79,374.00" fill="none" stroke="#000" stroke-width="2.2" stroke-linecap="round" stroke-linejoin="round" shape-rendering="crispEdges"/>
<path d="M826.40,374.00L832.01,374.00L828.95,378.00L830.48,378.00L831.50,378.50L832.01,379.00L832.52,380.50L832.52,381.50L832.01,383.00L830.99,384.00L829.46,384.50L827.93,384.50L826.40,384.00L825.89,383.50L825.38,382.50M841.70,374.00L836.60,374.00L836.09,378.50L836.60,378.00L838.13,377.50L839.66,377.50L841.19,378.00L842.21,379.00L842.72,380.50L842.72,381.50L842.21,383.00L841.19,384.00L839.66,384.50L838.13,384.50L836.60,384.00L836.09,383.50L835.58,382.50M848.84,374.00L847.31,374.50L846.29,376.00L845.78,378.50L845.78,380.00L846.29,382.50L847.31,384.00L848.84,384.50L849.86,384.50L851.39,384.00L852.41,382.50L852.92,380.00L852.92,378.50L852.41,376.00L851.39,374.50L849.86,374.00L848.84,374.00M859.04,374.00L857.51,374.50L856.49,376.00L855.98,378.50L855.98,380.00L856.49,382.50L857.51,384.00L859.04,384.50L860.06,384.50L861.59,384.00L862.61,382.50L863.12,380.00L863.12,378.50L862.61,376.00L861.59,374.50L860.06,374.00L859.04,374.00" fill="none" stroke="#000" stroke-width="2.2" stroke-linecap="round" stroke-linejoin="round" shape-rendering="crispEdges"/>
<path d="M891.73,374.00L886.63,381.00L894.28,381.00M891.73,374.00L891.73,384.50M899.89,374.00L898.36,374.50L897.34,376.00L896.83,378.50L896.83,380.00L897.34,382.50L898.36,384.00L899.89,384.50L900.91,384.50L902.44,384.00L903.46,382.50L903.97,380.00L903.97,378.50L903.46,376.00L902.44,374.50L900.91,374.00L899.89,374.00M910.09,374.00L908.56,374.50L907.54,376.00L907.03,378.50L907.03,380.00L907.54,382.50L908.56,384.00L910.09,384.50L911.11,384.50L912.64,384.00L913.66,382.50L914.17,380.00L914.17,378.50L913.66,376.00L912.64,374.50L911.11,374.00L910.09,374.00M920.29,374.00L918.76,374.50L917.74,376.00L917.23,378.50L917.23,380.00L917.74,382.50L918.76,384.00L920.29,384.50L921.31,384.50L922.84,384.00L923.86,382.50L924.37,380.00L924.37,378.50L923.86,376.00L922.84,374.50L921.31,374.00L920.29,374.00" fill="none" stroke="#000" stroke-width="2.2" stroke-linecap="round" stroke-linejoin="round" shape-rendering="crispEdges"/>
<path d="M658.80,394.88L658.80,403.70M658.80,394.88L663.38,394.88L664.91,395.30L665.42,395.72L665.93,396.56L665.93,397.40L665.42,398.24L664.91,398.66L663.38,399.08M658.80,399.08L663.38,399.08L664.91,399.50L665.42,399.92L665.93,400.76L665.93,402.02L665.42,402.86L664.91,403.28L663.38,403.70L658.80,403.70M675.09,397.82L675.09,403.70M675.09,399.08L674.07,398.24L673.05,397.82L671.53,397.82L670.51,398.24L669.49,399.08L668.98,400.34L668.98,401.18L669.49,402.44L670.51,403.28L671.53,403.70L673.05,403.70L674.07,403.28L675.09,402.44M679.16,397.82L679.16,403.70M679.16,400.34L679.67,399.08L680.69,398.24L681.71,397.82L683.23,397.82M684.76,397.82L687.81,403.70M690.87,397.82L687.81,403.70L686.80,405.38L685.78,406.22L684.76,406.64L684.25,406.64M694.43,394.88L694.43,402.02L694.94,403.28L695.96,403.70L696.98,403.70M692.90,397.82L696.47,397.82M699.52,394.88L700.03,395.30L700.54,394.88L700.03,394.46L699.52,394.88M700.03,397.82L700.03,403.70M704.10,397.82L704.10,403.70M704.10,399.50L705.63,398.24L706.65,397.82L708.17,397.82L709.19,398.24L709.70,399.50L709.70,403.70M709.70,399.50L711.23,398.24L712.25,397.82L713.77,397.82L714.79,398.24L715.30,399.50L715.30,403.70M718.86,400.34L724.97,400.34L724.97,399.50L724.46,398.66L723.95,398.24L722.94,397.82L721.41,397.82L720.39,398.24L719.37,399.08L718.86,400.34L718.86,401.18L719.37,402.44L720.39,403.28L721.41,403.70L722.94,403.70L723.95,403.28L724.97,402.44M740.24,393.20L739.22,394.04L738.21,395.30L737.19,396.98L736.68,399.08L736.68,400.76L737.19,402.86L738.21,404.54L739.22,405.80L740.24,406.64M749.40,394.88L749.40,403.70M749.40,399.08L748.39,398.24L747.37,397.82L745.84,397.82L744.82,398.24L743.81,399.08L743.30,400.34L743.30,401.18L743.81,402.44L744.82,403.28L745.84,403.70L747.37,403.70L748.39,403.28L749.40,402.44M759.08,397.82L759.08,403.70M759.08,399.08L758.06,398.24L757.04,397.82L755.51,397.82L754.50,398.24L753.48,399.08L752.97,400.34L752.97,401.18L753.48,402.44L754.50,403.28L755.51,403.70L757.04,403.70L758.06,403.28L759.08,402.44M762.13,397.82L765.18,403.70M768.24,397.82L765.18,403.70L764.17,405.38L763.15,406.22L762.13,406.64L761.62,406.64M776.38,399.08L775.87,398.24L774.35,397.82L772.82,397.82L771.29,398.24L770.78,399.08L771.29,399.92L772.31,400.34L774.86,400.76L775.87,401.18L776.38,402.02L776.38,402.44L775.87,403.28L774.35,403.70L772.82,403.70L771.29,403.28L770.78,402.44M779.44,393.20L780.45,394.04L781.47,395.30L782.49,396.98L783.00,399.08L783.00,400.76L782.49,402.86L781.47,404.54L780.45,405.80L779.44,406.64" fill="none" stroke="#000" stroke-width="2.0" stroke-linecap="round" stroke-linejoin="round" shape-rendering="crispEdges"/>
<path d="M472.40,269.95L481.85,265.86M472.40,261.77L481.85,265.86M470.60,247.46L471.50,248.48L472.85,249.50L474.65,250.52L476.90,251.04L478.70,251.04L480.95,250.52L482.75,249.50L484.10,248.48L485.00,247.46M475.55,243.88L481.85,243.88M477.35,243.88L476.00,242.35L475.55,241.32L475.55,239.79L476.00,238.77L477.35,238.26L481.85,238.26M477.35,238.26L476.00,236.72L475.55,235.70L475.55,234.17L476.00,233.14L477.35,232.63L481.85,232.63M475.55,222.92L481.85,222.92M476.90,222.92L476.00,223.94L475.55,224.96L475.55,226.50L476.00,227.52L476.90,228.54L478.25,229.05L479.15,229.05L480.50,228.54L481.40,227.52L481.85,226.50L481.85,224.96L481.40,223.94L480.50,222.92M475.55,213.21L482.75,213.21L484.10,213.72L484.55,214.23L485.00,215.25L485.00,216.79L484.55,217.81M476.90,213.21L476.00,214.23L475.55,215.25L475.55,216.79L476.00,217.81L476.90,218.83L478.25,219.34L479.15,219.34L480.50,218.83L481.40,217.81L481.85,216.79L481.85,215.25L481.40,214.23L480.50,213.21M470.60,209.63L471.50,208.61L472.85,207.58L474.65,206.56L476.90,206.05L478.70,206.05L480.95,206.56L482.75,207.58L484.10,208.61L485.00,209.63" fill="none" stroke="#000" stroke-width="2.1" stroke-linecap="round" stroke-linejoin="round" shape-rendering="crispEdges"/>
<path d="M507.10,89.11L512.00,101.50M516.90,89.11L512.00,101.50" fill="none" stroke="#000" stroke-width="2.0" stroke-linecap="round" stroke-linejoin="round" shape-rendering="crispEdges"/>
<path d="M518.80,102.46L518.80,106.80M518.80,103.70L519.97,102.77L520.76,102.46L521.93,102.46L522.72,102.77L523.11,103.70L523.11,106.80M523.11,103.70L524.28,102.77L525.06,102.46L526.24,102.46L527.02,102.77L527.41,103.70L527.41,106.80M530.15,104.32L534.85,104.32L534.85,103.70L534.46,103.08L534.07,102.77L533.29,102.46L532.11,102.46L531.33,102.77L530.55,103.39L530.15,104.32L530.15,104.94L530.55,105.87L531.33,106.49L532.11,106.80L533.29,106.80L534.07,106.49L534.85,105.87M541.90,100.29L541.90,106.80M541.90,103.39L541.12,102.77L540.33,102.46L539.16,102.46L538.38,102.77L537.59,103.39L537.20,104.32L537.20,104.94L537.59,105.87L538.38,106.49L539.16,106.80L540.33,106.80L541.12,106.49L541.90,105.87" fill="none" stroke="#000" stroke-width="1.8" stroke-linecap="round" stroke-linejoin="round" shape-rendering="crispEdges"/>
<path d="M557.10,94.42L567.00,94.42M557.10,97.96L567.00,97.96" fill="none" stroke="#000" stroke-width="2.0" stroke-linecap="round" stroke-linejoin="round" shape-rendering="crispEdges"/>
<path d="M584.20,91.47L585.44,90.88L587.31,89.11L587.31,101.50M598.51,89.11L596.64,89.70L595.40,91.47L594.78,94.42L594.78,96.19L595.40,99.14L596.64,100.91L598.51,101.50L599.76,101.50L601.62,100.91L602.87,99.14L603.49,96.19L603.49,94.42L602.87,91.47L601.62,89.70L599.76,89.11L598.51,89.11M608.47,100.32L607.84,100.91L608.47,101.50L609.09,100.91L608.47,100.32M617.18,89.11L615.31,89.70L614.07,91.47L613.44,94.42L613.44,96.19L614.07,99.14L615.31,100.91L617.18,101.50L618.42,101.50L620.29,100.91L621.53,99.14L622.16,96.19L622.16,94.42L621.53,91.47L620.29,89.70L618.42,89.11L617.18,89.11M626.51,92.06L626.51,91.47L627.13,90.29L627.76,89.70L629.00,89.11L631.49,89.11L632.73,89.70L633.36,90.29L633.98,91.47L633.98,92.65L633.36,93.83L632.11,95.60L625.89,101.50L634.60,101.50" fill="none" stroke="#000" stroke-width="2.0" stroke-linecap="round" stroke-linejoin="round" shape-rendering="crispEdges"/>
<path d="M649.90,93.34L649.90,101.60M649.90,95.70L651.82,93.93L653.09,93.34L655.01,93.34L656.28,93.93L656.92,95.70L656.92,101.60M656.92,95.70L658.84,93.93L660.11,93.34L662.03,93.34L663.31,93.93L663.94,95.70L663.94,101.60M676.07,93.34L676.07,101.60M676.07,95.11L674.80,93.93L673.52,93.34L671.60,93.34L670.33,93.93L669.05,95.11L668.41,96.88L668.41,98.06L669.05,99.83L670.33,101.01L671.60,101.60L673.52,101.60L674.80,101.01L676.07,99.83M688.20,93.34L688.20,102.78L687.56,104.55L686.92,105.14L685.65,105.73L683.73,105.73L682.46,105.14M688.20,95.11L686.92,93.93L685.65,93.34L683.73,93.34L682.46,93.93L681.18,95.11L680.54,96.88L680.54,98.06L681.18,99.83L682.46,101.01L683.73,101.60L685.65,101.60L686.92,101.01L688.20,99.83" fill="none" stroke="#000" stroke-width="2.0" stroke-linecap="round" stroke-linejoin="round" shape-rendering="crispEdges"/>
<path d="M712.59,90.98L702.20,96.29L712.59,101.60M717.13,96.88L724.92,96.88L724.92,95.70L724.27,94.52L723.62,93.93L722.32,93.34L720.38,93.34L719.08,93.93L717.78,95.11L717.13,96.88L717.13,98.06L717.78,99.83L719.08,101.01L720.38,101.60L722.32,101.60L723.62,101.01L724.92,99.83M729.46,93.34L729.46,101.60M729.46,96.88L730.11,95.11L731.41,93.93L732.71,93.34L734.66,93.34M737.90,93.34L737.90,101.60M737.90,96.88L738.55,95.11L739.85,93.93L741.15,93.34L743.10,93.34M743.75,102.78L754.13,102.78M754.78,89.21L759.97,101.60M765.17,89.21L759.97,101.60M768.41,90.98L778.80,96.29L768.41,101.60" fill="none" stroke="#000" stroke-width="2.0" stroke-linecap="round" stroke-linejoin="round" shape-rendering="crispEdges"/>
<path d="M794.00,94.42L804.00,94.42M794.00,97.96L804.00,97.96" fill="none" stroke="#000" stroke-width="2.0" stroke-linecap="round" stroke-linejoin="round" shape-rendering="crispEdges"/>
<path d="M823.30,89.11L821.35,89.70L820.05,91.47L819.40,94.42L819.40,96.19L820.05,99.14L821.35,100.91L823.30,101.50L824.60,101.50L826.55,100.91L827.85,99.14L828.50,96.19L828.50,94.42L827.85,91.47L826.55,89.70L824.60,89.11L823.30,89.11M833.70,100.32L833.05,100.91L833.70,101.50L834.35,100.91L833.70,100.32M842.80,89.11L840.85,89.70L839.55,91.47L838.90,94.42L838.90,96.19L839.55,99.14L840.85,100.91L842.80,101.50L844.10,101.50L846.05,100.91L847.35,99.14L848.00,96.19L848.00,94.42L847.35,91.47L846.05,89.70L844.10,89.11L842.80,89.11M852.55,92.06L852.55,91.47L853.20,90.29L853.85,89.70L855.15,89.11L857.75,89.11L859.05,89.70L859.70,90.29L860.35,91.47L860.35,92.65L859.70,93.83L858.40,95.60L851.90,101.50L861.00,101.50" fill="none" stroke="#000" stroke-width="2.0" stroke-linecap="round" stroke-linejoin="round" shape-rendering="crispEdges"/>
<path d="M874.50,93.34L874.50,101.60M874.50,95.70L876.45,93.93L877.75,93.34L879.70,93.34L881.00,93.93L881.65,95.70L881.65,101.60M881.65,95.70L883.60,93.93L884.90,93.34L886.85,93.34L888.15,93.93L888.80,95.70L888.80,101.60M901.15,93.34L901.15,101.60M901.15,95.11L899.85,93.93L898.55,93.34L896.60,93.34L895.30,93.93L894.00,95.11L893.35,96.88L893.35,98.06L894.00,99.83L895.30,101.01L896.60,101.60L898.55,101.60L899.85,101.01L901.15,99.83M913.50,93.34L913.50,102.78L912.85,104.55L912.20,105.14L910.90,105.73L908.95,105.73L907.65,105.14M913.50,95.11L912.20,93.93L910.90,93.34L908.95,93.34L907.65,93.93L906.35,95.11L905.70,96.88L905.70,98.06L906.35,99.83L907.65,101.01L908.95,101.60L910.90,101.60L912.20,101.01L913.50,99.83" fill="none" stroke="#000" stroke-width="2.0" stroke-linecap="round" stroke-linejoin="round" shape-rendering="crispEdges"/>
<rect x="549.9" y="139.0" width="2.1" height="41.6" fill="#52008a"/><rect x="549.0" y="141.0" width="3.0" height="15.3" fill="#52008a"/><rect x="547.1" y="160.0" width="4.9" height="12.5" fill="#52008a"/><rect x="549.9" y="182.8" width="2.1" height="2.9" fill="#52008a"/><rect x="565.2" y="148.0" width="2.7" height="9.6" fill="#3a08b0"/><rect x="569.9" y="160.9" width="2.8" height="10.0" fill="#1010c8"/><rect x="591.2" y="256.2" width="1.8" height="1.7" fill="#102a70"/><rect x="590.2" y="269.0" width="3.3" height="22.0" fill="#1040d8"/><rect x="591.0" y="274.0" width="3.9" height="19.8" fill="#1040d8"/><rect x="604.1" y="320.0" width="2.8" height="1.7" fill="#2a80c0"/><rect x="604.1" y="323.3" width="2.9" height="9.4" fill="#2888d0"/><rect x="604.1" y="338.1" width="2.8" height="1.6" fill="#2a80c0"/><polygon points="634.1,152 634.1,183.7 635.4,186 636.1,195 638.4,195 638.4,186 639.9,183 639.9,155.2 638,152.2" fill="#12e4a4"/><rect x="633.9" y="148.9" width="3.3" height="4.1" fill="#20b8d0"/><rect x="634.1" y="153.0" width="2.4" height="12.0" fill="#18cfc0"/><rect x="655.0" y="192.0" width="3.2" height="4.7" fill="#40c040"/><rect x="641.9" y="204.7" width="2.4" height="7.0" fill="#30c030"/><polygon points="679.1,240 681.7,240 683.1,244.8 684,250.2 684.4,255 685.7,256.8 685.7,275.8 685.3,285.6 684.4,288.2 680.8,288.2 680,282 679.1,277.6" fill="#80ea18"/><rect x="680.8" y="288.2" width="2.3" height="5.3" fill="#90b868"/><rect x="680.8" y="298.0" width="2.2" height="1.7" fill="#90b060"/><rect x="709.1" y="133.0" width="2.6" height="21.5" fill="#f0d020"/><rect x="707.0" y="154.8" width="3.1" height="7.7" fill="#c0e040"/><rect x="707.0" y="163.8" width="3.0" height="2.7" fill="#c0e040"/><polygon points="861.9,183 862.8,181 864.3,181 864.3,203.3 861.9,203.3" fill="#f07818"/><polygon points="864.3,181.5 866.7,182.8 866.7,202.1 864.3,203.3" fill="#e02818"/><rect x="862.8" y="205.1" width="3.3" height="1.5" fill="#c0a070"/><polygon points="863.7,210 865,208.1 866.7,208.1 866.7,216 863.7,216" fill="#c01828"/>
<g stroke="#000" stroke-width="2" fill="none" shape-rendering="crispEdges">
<rect x="84.1" y="441.0" width="377.9" height="253.39999999999998"/>
<path d="M88.7,694.4v3.2M102.2,694.4v3.2M115.7,694.4v3.2M129.2,694.4v7.4M129.2,441.0v4.5M142.7,694.4v3.2M156.2,694.4v3.2M169.7,694.4v3.2M183.2,694.4v7.4M183.2,441.0v4.5M196.7,694.4v3.2M210.2,694.4v3.2M223.7,694.4v3.2M237.2,694.4v7.4M237.2,441.0v4.5M250.7,694.4v3.2M264.2,694.4v3.2M277.7,694.4v3.2M291.2,694.4v7.4M291.2,441.0v4.5M304.7,694.4v3.2M318.2,694.4v3.2M331.7,694.4v3.2M345.2,694.4v7.4M345.2,441.0v4.5M358.7,694.4v3.2M372.2,694.4v3.2M385.7,694.4v3.2M399.2,694.4v7.4M399.2,441.0v4.5M412.7,694.4v3.2M426.2,694.4v3.2M439.7,694.4v3.2M453.2,694.4v7.4M453.2,441.0v4.5M84.1,629.9h7M462.0,629.9h-7M84.1,565.4h7M462.0,565.4h-7M84.1,500.9h7M462.0,500.9h-7"/>
</g>
<path d="M101.2,694.4V659.9H118.9V694.4M118.9,694.4V653.1H136.6V694.4M136.6,694.4V634.7H154.3V694.4M154.3,694.4V569.9H172.0V694.4M172.0,694.4V640.9H189.7V694.4M189.7,694.4V583.8H207.3V694.4M207.3,694.4V689.6H225.0V694.4M225.0,694.4V694.4H242.7V694.4M242.7,694.4V694.4H260.4V694.4M260.4,694.4V689.6H278.1V694.4M278.1,694.4V589.6H295.8V694.4M295.8,694.4V453.2H313.5V694.4M313.5,694.4V495.1H331.2V694.4M331.2,694.4V590.2H348.9V694.4M348.9,694.4V687.9H366.6V694.4M366.6,694.4V694.4H384.2V694.4M384.2,694.4V694.4H401.9V694.4M401.9,694.4V691.2H419.6V694.4M419.6,694.4V694.4H437.3V694.4M101.2,694.4H437.3" stroke="#c41818" stroke-width="2" fill="none" shape-rendering="crispEdges"/>
<path d="M124.45,716.67L123.95,718.15L122.95,719.14L121.45,719.64L120.95,719.64L119.45,719.14L118.45,718.15L117.95,716.67L117.95,716.18L118.45,714.69L119.45,713.70L120.95,713.21L121.45,713.21L122.95,713.70L123.95,714.69L124.45,716.67L124.45,719.14L123.95,721.62L122.95,723.11L121.45,723.60L120.45,723.60L118.95,723.11L118.45,722.12M128.95,722.61L128.45,723.11L128.95,723.60L129.45,723.11L128.95,722.61M137.95,713.21L132.95,720.13L140.45,720.13M137.95,713.21L137.95,723.60" fill="none" stroke="#000" stroke-width="2.2" stroke-linecap="round" stroke-linejoin="round" shape-rendering="crispEdges"/>
<path d="M178.70,716.67L178.20,718.15L177.20,719.14L175.70,719.64L175.20,719.64L173.70,719.14L172.70,718.15L172.20,716.67L172.20,716.18L172.70,714.69L173.70,713.70L175.20,713.21L175.70,713.21L177.20,713.70L178.20,714.69L178.70,716.67L178.70,719.14L178.20,721.62L177.20,723.11L175.70,723.60L174.70,723.60L173.20,723.11L172.70,722.12M183.20,722.61L182.70,723.11L183.20,723.60L183.70,723.11L183.20,722.61M193.70,714.69L193.20,713.70L191.70,713.21L190.70,713.21L189.20,713.70L188.20,715.19L187.70,717.66L187.70,720.13L188.20,722.12L189.20,723.11L190.70,723.60L191.20,723.60L192.70,723.11L193.70,722.12L194.20,720.63L194.20,720.13L193.70,718.65L192.70,717.66L191.20,717.17L190.70,717.17L189.20,717.66L188.20,718.65L187.70,720.13" fill="none" stroke="#000" stroke-width="2.2" stroke-linecap="round" stroke-linejoin="round" shape-rendering="crispEdges"/>
<path d="M232.70,716.67L232.20,718.15L231.20,719.14L229.70,719.64L229.20,719.64L227.70,719.14L226.70,718.15L226.20,716.67L226.20,716.18L226.70,714.69L227.70,713.70L229.20,713.21L229.70,713.21L231.20,713.70L232.20,714.69L232.70,716.67L232.70,719.14L232.20,721.62L231.20,723.11L229.70,723.60L228.70,723.60L227.20,723.11L226.70,722.12M237.20,722.61L236.70,723.11L237.20,723.60L237.70,723.11L237.20,722.61M243.70,713.21L242.20,713.70L241.70,714.69L241.70,715.68L242.20,716.67L243.20,717.17L245.20,717.66L246.70,718.15L247.70,719.14L248.20,720.13L248.20,721.62L247.70,722.61L247.20,723.11L245.70,723.60L243.70,723.60L242.20,723.11L241.70,722.61L241.20,721.62L241.20,720.13L241.70,719.14L242.70,718.15L244.20,717.66L246.20,717.17L247.20,716.67L247.70,715.68L247.70,714.69L247.20,713.70L245.70,713.21L243.70,713.21" fill="none" stroke="#000" stroke-width="2.2" stroke-linecap="round" stroke-linejoin="round" shape-rendering="crispEdges"/>
<path d="M275.95,715.19L276.95,714.69L278.45,713.21L278.45,723.60M287.45,713.21L285.95,713.70L284.95,715.19L284.45,717.66L284.45,719.14L284.95,721.62L285.95,723.11L287.45,723.60L288.45,723.60L289.95,723.11L290.95,721.62L291.45,719.14L291.45,717.66L290.95,715.19L289.95,713.70L288.45,713.21L287.45,713.21M295.45,722.61L294.95,723.11L295.45,723.60L295.95,723.11L295.45,722.61M302.45,713.21L300.95,713.70L299.95,715.19L299.45,717.66L299.45,719.14L299.95,721.62L300.95,723.11L302.45,723.60L303.45,723.60L304.95,723.11L305.95,721.62L306.45,719.14L306.45,717.66L305.95,715.19L304.95,713.70L303.45,713.21L302.45,713.21" fill="none" stroke="#000" stroke-width="2.2" stroke-linecap="round" stroke-linejoin="round" shape-rendering="crispEdges"/>
<path d="M329.95,715.19L330.95,714.69L332.45,713.21L332.45,723.60M341.45,713.21L339.95,713.70L338.95,715.19L338.45,717.66L338.45,719.14L338.95,721.62L339.95,723.11L341.45,723.60L342.45,723.60L343.95,723.11L344.95,721.62L345.45,719.14L345.45,717.66L344.95,715.19L343.95,713.70L342.45,713.21L341.45,713.21M349.45,722.61L348.95,723.11L349.45,723.60L349.95,723.11L349.45,722.61M353.95,715.68L353.95,715.19L354.45,714.20L354.95,713.70L355.95,713.21L357.95,713.21L358.95,713.70L359.45,714.20L359.95,715.19L359.95,716.18L359.45,717.17L358.45,718.65L353.45,723.60L360.45,723.60" fill="none" stroke="#000" stroke-width="2.2" stroke-linecap="round" stroke-linejoin="round" shape-rendering="crispEdges"/>
<path d="M383.70,715.19L384.70,714.69L386.20,713.21L386.20,723.60M395.20,713.21L393.70,713.70L392.70,715.19L392.20,717.66L392.20,719.14L392.70,721.62L393.70,723.11L395.20,723.60L396.20,723.60L397.70,723.11L398.70,721.62L399.20,719.14L399.20,717.66L398.70,715.19L397.70,713.70L396.20,713.21L395.20,713.21M403.20,722.61L402.70,723.11L403.20,723.60L403.70,723.11L403.20,722.61M412.20,713.21L407.20,720.13L414.70,720.13M412.20,713.21L412.20,723.60" fill="none" stroke="#000" stroke-width="2.2" stroke-linecap="round" stroke-linejoin="round" shape-rendering="crispEdges"/>
<path d="M437.95,715.19L438.95,714.69L440.45,713.21L440.45,723.60M449.45,713.21L447.95,713.70L446.95,715.19L446.45,717.66L446.45,719.14L446.95,721.62L447.95,723.11L449.45,723.60L450.45,723.60L451.95,723.11L452.95,721.62L453.45,719.14L453.45,717.66L452.95,715.19L451.95,713.70L450.45,713.21L449.45,713.21M457.45,722.61L456.95,723.11L457.45,723.60L457.95,723.11L457.45,722.61M467.95,714.69L467.45,713.70L465.95,713.21L464.95,713.21L463.45,713.70L462.45,715.19L461.95,717.66L461.95,720.13L462.45,722.12L463.45,723.11L464.95,723.60L465.45,723.60L466.95,723.11L467.95,722.12L468.45,720.63L468.45,720.13L467.95,718.65L466.95,717.66L465.45,717.17L464.95,717.17L463.45,717.66L462.45,718.65L461.95,720.13" fill="none" stroke="#000" stroke-width="2.2" stroke-linecap="round" stroke-linejoin="round" shape-rendering="crispEdges"/>
<path d="M240.10,733.86L244.12,743.10M248.14,733.86L244.12,743.10M262.21,732.10L261.20,732.98L260.20,734.30L259.19,736.06L258.69,738.26L258.69,740.02L259.19,742.22L260.20,743.98L261.20,745.30L262.21,746.18M265.72,736.94L265.72,743.10M265.72,738.70L267.23,737.38L268.23,736.94L269.74,736.94L270.75,737.38L271.25,738.70L271.25,743.10M271.25,738.70L272.76,737.38L273.76,736.94L275.27,736.94L276.27,737.38L276.78,738.70L276.78,743.10M286.32,736.94L286.32,743.10M286.32,738.26L285.32,737.38L284.31,736.94L282.80,736.94L281.80,737.38L280.79,738.26L280.29,739.58L280.29,740.46L280.79,741.78L281.80,742.66L282.80,743.10L284.31,743.10L285.32,742.66L286.32,741.78M295.87,736.94L295.87,743.98L295.36,745.30L294.86,745.74L293.86,746.18L292.35,746.18L291.34,745.74M295.87,738.26L294.86,737.38L293.86,736.94L292.35,736.94L291.34,737.38L290.34,738.26L289.84,739.58L289.84,740.46L290.34,741.78L291.34,742.66L292.35,743.10L293.86,743.10L294.86,742.66L295.87,741.78M299.38,732.10L300.39,732.98L301.39,734.30L302.40,736.06L302.90,738.26L302.90,740.02L302.40,742.22L301.39,743.98L300.39,745.30L299.38,746.18" fill="none" stroke="#000" stroke-width="2.0" stroke-linecap="round" stroke-linejoin="round" shape-rendering="crispEdges"/>
<path d="M56.09,498.10L55.58,497.10L54.05,496.60L53.03,496.60L51.50,497.10L50.48,498.60L49.97,501.10L49.97,503.60L50.48,505.60L51.50,506.60L53.03,507.10L53.54,507.10L55.07,506.60L56.09,505.60L56.60,504.10L56.60,503.60L56.09,502.10L55.07,501.10L53.54,500.60L53.03,500.60L51.50,501.10L50.48,502.10L49.97,503.60M62.72,496.60L61.19,497.10L60.17,498.60L59.66,501.10L59.66,502.60L60.17,505.10L61.19,506.60L62.72,507.10L63.74,507.10L65.27,506.60L66.29,505.10L66.80,502.60L66.80,501.10L66.29,498.60L65.27,497.10L63.74,496.60L62.72,496.60M72.92,496.60L71.39,497.10L70.37,498.60L69.86,501.10L69.86,502.60L70.37,505.10L71.39,506.60L72.92,507.10L73.94,507.10L75.47,506.60L76.49,505.10L77.00,502.60L77.00,501.10L76.49,498.60L75.47,497.10L73.94,496.60L72.92,496.60" fill="none" stroke="#000" stroke-width="2.2" stroke-linecap="round" stroke-linejoin="round" shape-rendering="crispEdges"/>
<path d="M54.56,561.20L49.46,568.20L57.11,568.20M54.56,561.20L54.56,571.70M62.72,561.20L61.19,561.70L60.17,563.20L59.66,565.70L59.66,567.20L60.17,569.70L61.19,571.20L62.72,571.70L63.74,571.70L65.27,571.20L66.29,569.70L66.80,567.20L66.80,565.70L66.29,563.20L65.27,561.70L63.74,561.20L62.72,561.20M72.92,561.20L71.39,561.70L70.37,563.20L69.86,565.70L69.86,567.20L70.37,569.70L71.39,571.20L72.92,571.70L73.94,571.70L75.47,571.20L76.49,569.70L77.00,567.20L77.00,565.70L76.49,563.20L75.47,561.70L73.94,561.20L72.92,561.20" fill="none" stroke="#000" stroke-width="2.2" stroke-linecap="round" stroke-linejoin="round" shape-rendering="crispEdges"/>
<path d="M49.97,628.20L49.97,627.70L50.48,626.70L50.99,626.20L52.01,625.70L54.05,625.70L55.07,626.20L55.58,626.70L56.09,627.70L56.09,628.70L55.58,629.70L54.56,631.20L49.46,636.20L56.60,636.20M62.72,625.70L61.19,626.20L60.17,627.70L59.66,630.20L59.66,631.70L60.17,634.20L61.19,635.70L62.72,636.20L63.74,636.20L65.27,635.70L66.29,634.20L66.80,631.70L66.80,630.20L66.29,627.70L65.27,626.20L63.74,625.70L62.72,625.70M72.92,625.70L71.39,626.20L70.37,627.70L69.86,630.20L69.86,631.70L70.37,634.20L71.39,635.70L72.92,636.20L73.94,636.20L75.47,635.70L76.49,634.20L77.00,631.70L77.00,630.20L76.49,627.70L75.47,626.20L73.94,625.70L72.92,625.70" fill="none" stroke="#000" stroke-width="2.2" stroke-linecap="round" stroke-linejoin="round" shape-rendering="crispEdges"/>
<path d="M72.92,684.30L71.39,684.80L70.37,686.30L69.86,688.80L69.86,690.30L70.37,692.80L71.39,694.30L72.92,694.80L73.94,694.80L75.47,694.30L76.49,692.80L77.00,690.30L77.00,688.80L76.49,686.30L75.47,684.80L73.94,684.30L72.92,684.30" fill="none" stroke="#000" stroke-width="2.2" stroke-linecap="round" stroke-linejoin="round" shape-rendering="crispEdges"/>
<path d="M24.03,571.80L33.80,571.80M24.03,571.80L33.80,565.10M24.03,565.10L33.80,565.10" fill="none" stroke="#000" stroke-width="2.2" stroke-linecap="round" stroke-linejoin="round" shape-rendering="crispEdges"/>
</svg></body></html>
